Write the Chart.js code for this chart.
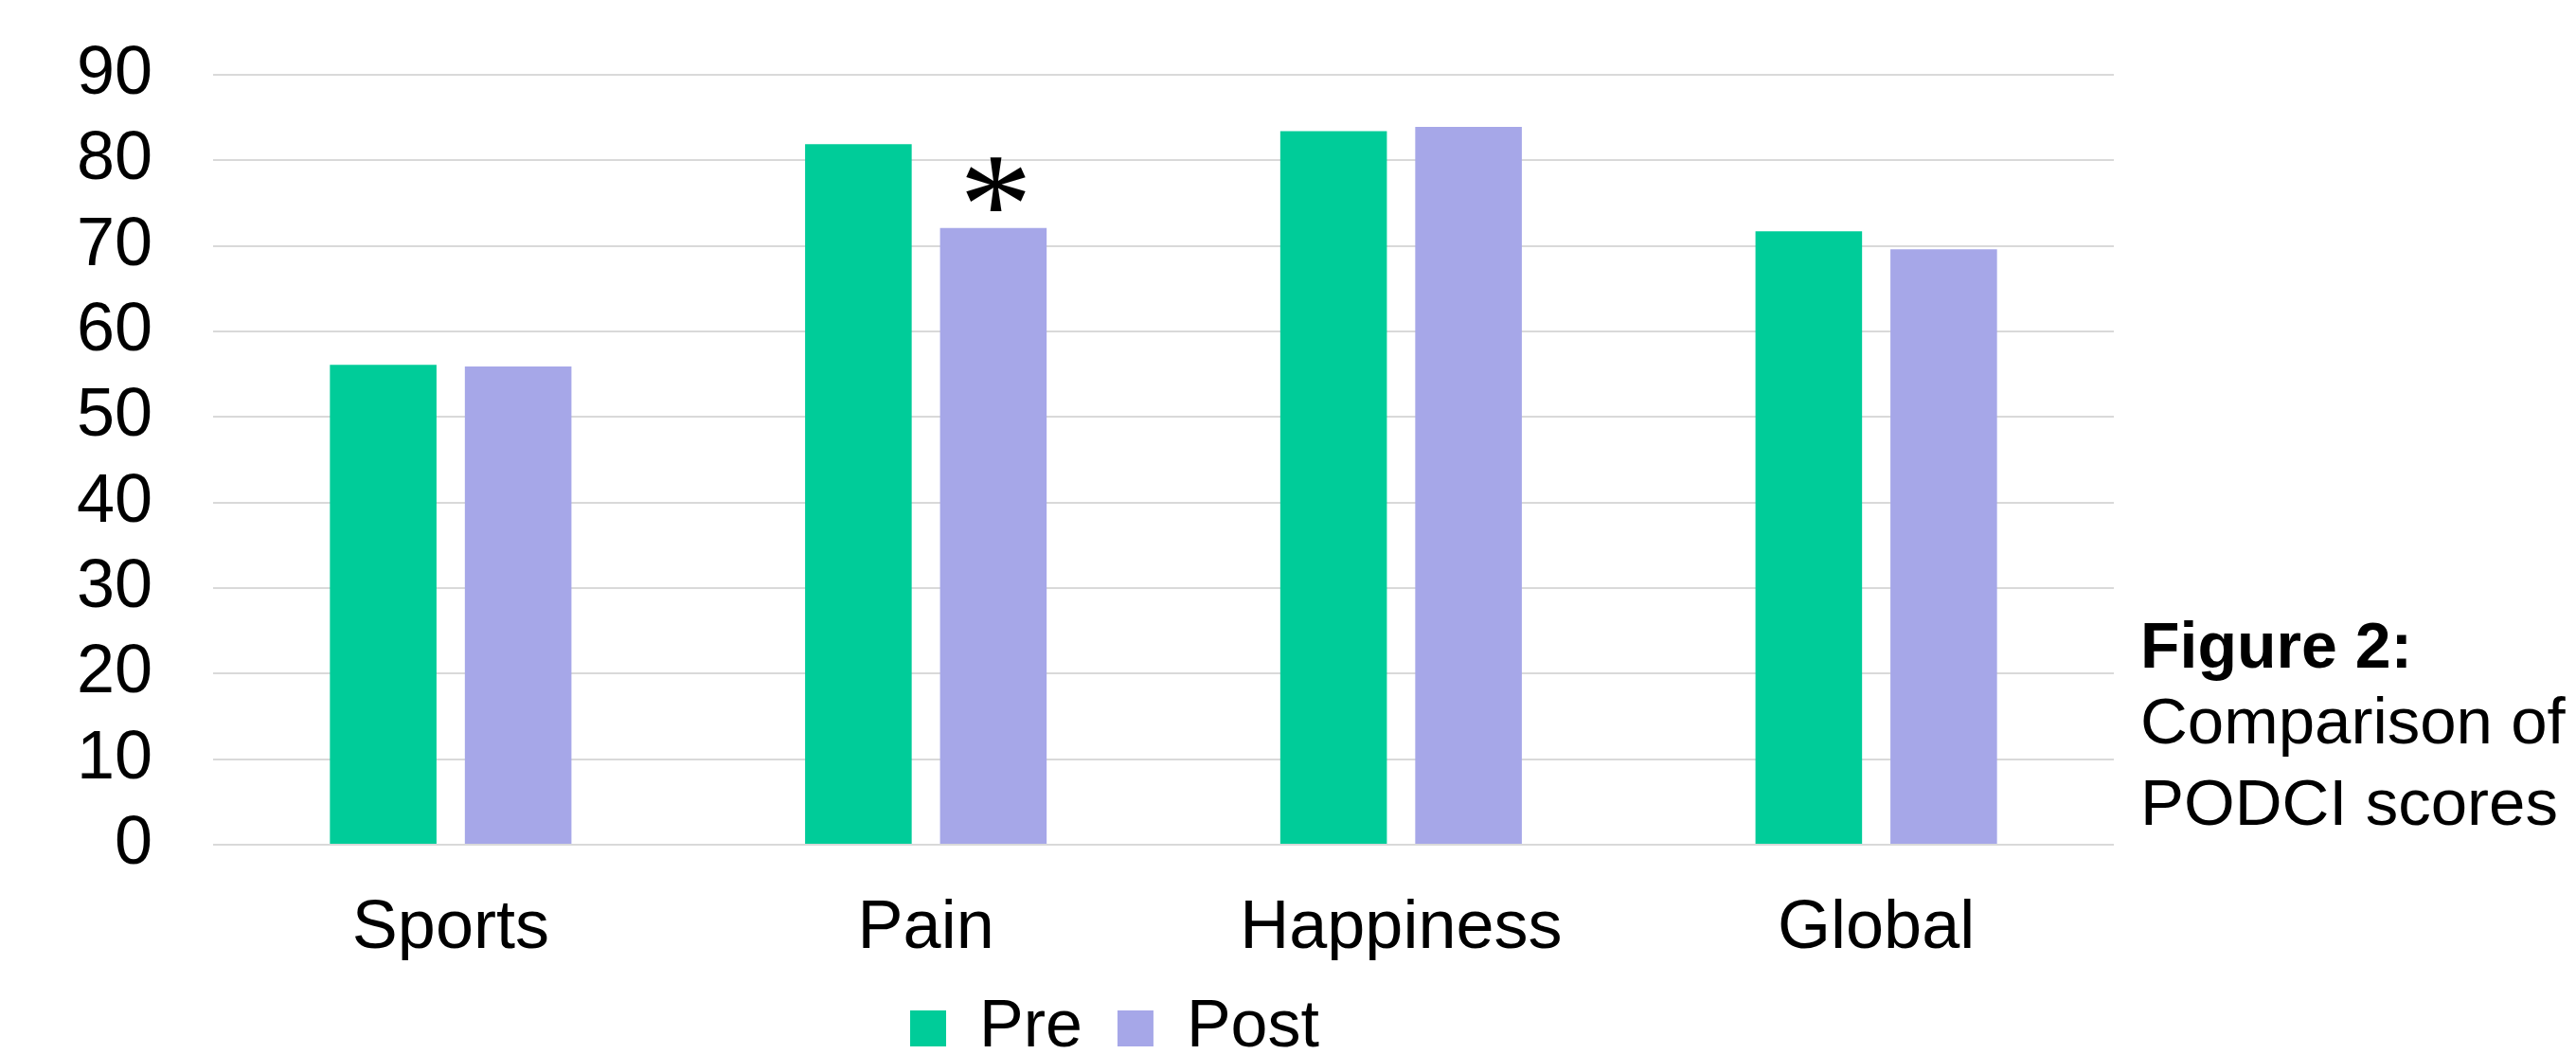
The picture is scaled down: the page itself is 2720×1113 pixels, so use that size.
<!DOCTYPE html>
<html>
<head>
<meta charset="utf-8">
<script src="https://cdn.jsdelivr.net/npm/chart.js@4.4.1/dist/chart.umd.min.js"></script>
<style>
  html, body { margin: 0; padding: 0; background: #fff; overflow: hidden; width: 2720px; height: 1113px; }
  #wrap { position: absolute; left: 0; top: 0; width: 2354px; height: 1131px; }
  .cap { position: absolute; left: 2260px; font-family: "Liberation Sans", Arial, sans-serif; color: #000; line-height: 1; white-space: nowrap; }
</style>
</head>
<body>
<div id="wrap"><canvas id="c" width="2354" height="1131"></canvas></div>
<div class="cap" style="top:647px; font-size:68px; font-weight:bold;">Figure 2:</div>
<div class="cap" style="top:727px; font-size:69px;">Comparison of</div>
<div class="cap" style="top:813px; font-size:69px;">PODCI scores</div>
<script>
// PODCI domain scores before and after treatment
const categories = ['Sports', 'Pain', 'Happiness', 'Global'];
const preScores  = [56.1, 81.9, 83.4, 71.7];
const postScores = [55.9, 72.1, 83.9, 69.6];
// significance marks shown above the post-treatment bars
const postMarks  = ['', '*', '', ''];
const yTicks     = [0, 10, 20, 30, 40, 50, 60, 70, 80, 90];

const FONT = '"Liberation Sans", Arial, sans-serif';
const GREEN = '#00CC99';
const LAVENDER = '#A6A7E8';

// draws the significance asterisk centred just above its bar
const sigMarks = {
  id: 'sigMarks',
  afterDatasetsDraw(chart) {
    const ctx = chart.ctx;
    const meta = chart.getDatasetMeta(1);
    postMarks.forEach((mark, i) => {
      if (!mark) return;
      const bar = meta.data[i];
      ctx.save();
      ctx.font = '120px "Liberation Serif", "Times New Roman", serif';
      const probe = ctx.measureText(mark);
      const h0 = probe.actualBoundingBoxAscent + probe.actualBoundingBoxDescent;
      const size = 120 * 58 / h0;
      ctx.font = size + 'px "Liberation Serif", "Times New Roman", serif';
      const m = ctx.measureText(mark);
      const w = m.actualBoundingBoxLeft + m.actualBoundingBoxRight;
      ctx.fillStyle = '#000';
      ctx.textAlign = 'left';
      ctx.textBaseline = 'alphabetic';
      const x = bar.x + 2.5 + m.actualBoundingBoxLeft - w / 2;
      const y = bar.y + 23 - m.actualBoundingBoxDescent;
      ctx.fillText(mark, x, y);
      ctx.restore();
    });
  }
};

new Chart(document.getElementById('c'), {
  type: 'bar',
  data: {
    labels: categories,
    datasets: [
      { label: 'Pre',  data: preScores,  backgroundColor: GREEN,    categoryPercentage: 0.568, barPercentage: 0.79 },
      { label: 'Post', data: postScores, backgroundColor: LAVENDER, categoryPercentage: 0.568, barPercentage: 0.79 }
    ]
  },
  options: {
    responsive: false,
    animation: false,
    devicePixelRatio: 1,
    layout: { padding: { top: 79, right: 0, left: 0, bottom: 0 } },
    plugins: {
      legend: {
        position: 'bottom',
        labels: {
          boxWidth: 38, boxHeight: 38, padding: 37, color: '#000',
          font: { family: FONT, size: 70 }
        }
      },
      tooltip: { enabled: false }
    },
    scales: {
      x: {
        grid: { display: false, drawTicks: false },
        border: { display: false },
        ticks: { color: '#000', padding: 46, maxRotation: 0, font: { family: FONT, size: 72 } },
        afterFit(scale) { scale.height = 122; }
      },
      y: {
        min: 0, max: 90,
        afterBuildTicks(scale) { scale.ticks = yTicks.map(v => ({ value: v })); },
        ticks: { color: '#000', padding: 64, autoSkip: false, font: { family: FONT, size: 72 } },
        grid: { color: '#D9D9D9', lineWidth: 2, drawTicks: false },
        border: { display: false },
        afterFit(scale) {
          scale.width = 225;
          scale.paddingTop = 0;
          scale.paddingBottom = 0;
        }
      },
      // empty right-hand gutter between the plot and the caption
      gutter: {
        type: 'linear',
        position: 'right',
        grid: { display: false, drawTicks: false },
        border: { display: false },
        ticks: { display: false },
        afterFit(scale) {
          scale.width = 122;
          scale.paddingTop = 0;
          scale.paddingBottom = 0;
        }
      }
    }
  },
  plugins: [sigMarks]
});
</script>
</body>
</html>
